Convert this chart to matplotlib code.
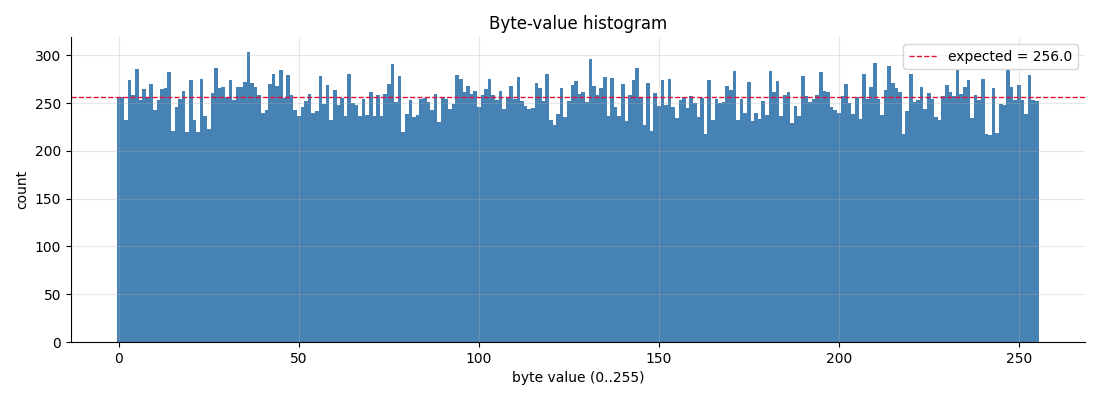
import numpy as np
import matplotlib
matplotlib.use("Agg")
import matplotlib.pyplot as plt

# counts per byte value
counts = [
    256, 256, 232, 274, 258, 286, 253, 265, 256, 270, 243, 253, 265, 266, 283, 221,
    246, 254, 263, 220, 274, 232, 220, 275, 236, 223, 261, 287, 266, 267, 256, 274,
    253, 267, 267, 272, 304, 271, 267, 258, 240, 243, 270, 281, 268, 285, 255, 279,
    258, 243, 236, 246, 252, 260, 240, 242, 278, 249, 269, 232, 264, 248, 255, 236,
    280, 250, 248, 236, 254, 238, 262, 237, 258, 237, 260, 270, 291, 251, 278, 220,
    239, 253, 235, 238, 254, 255, 251, 243, 260, 230, 256, 254, 244, 249, 279, 275,
    262, 268, 260, 263, 246, 258, 265, 275, 258, 253, 263, 244, 255, 268, 254, 277,
    252, 247, 244, 245, 271, 266, 252, 280, 232, 227, 239, 266, 235, 252, 269, 273,
    260, 262, 251, 296, 268, 258, 266, 277, 237, 276, 246, 236, 270, 231, 258, 274,
    287, 256, 227, 271, 221, 261, 247, 274, 248, 275, 246, 234, 253, 256, 245, 257,
    250, 235, 255, 218, 274, 232, 254, 250, 251, 268, 264, 284, 232, 254, 240, 272,
    231, 240, 233, 252, 238, 284, 262, 273, 237, 258, 262, 229, 247, 237, 278, 257,
    251, 254, 258, 283, 263, 262, 246, 243, 240, 257, 270, 250, 239, 256, 233, 281,
    254, 267, 292, 254, 238, 264, 289, 271, 266, 262, 218, 242, 280, 251, 253, 267,
    244, 261, 254, 235, 232, 257, 269, 262, 257, 285, 260, 267, 274, 234, 258, 253,
    275, 218, 217, 266, 219, 249, 248, 285, 267, 253, 269, 253, 239, 279, 253, 252,
]
byte_values = np.arange(256)
expected = 256.0

fig, ax = plt.subplots(figsize=(11, 4), dpi=100)
fig.subplots_adjust(left=0.0645, right=0.986, top=0.9075, bottom=0.145)

ax.bar(byte_values, counts, width=1.0, color="steelblue", linewidth=0)
ax.axhline(expected, color="crimson", linestyle="--", linewidth=1,
           label=f"expected = {expected}")

ax.set_title("Byte-value histogram")
ax.set_xlabel("byte value (0..255)")
ax.set_ylabel("count")
ax.grid(True, alpha=0.3)
ax.spines["top"].set_visible(False)
ax.spines["right"].set_visible(False)
ax.legend(loc="upper right")

fig.savefig("out.png")
